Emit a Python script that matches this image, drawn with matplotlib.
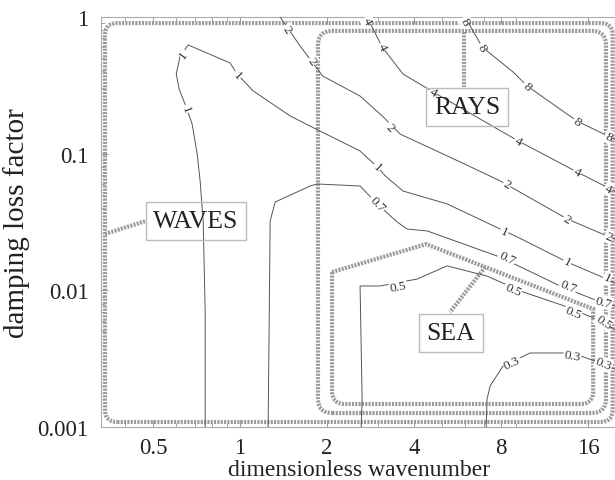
import numpy as np
import matplotlib
matplotlib.use("Agg")
import matplotlib.pyplot as plt
from matplotlib.patches import FancyBboxPatch, Polygon
from matplotlib.ticker import FixedLocator, FixedFormatter, LogLocator, NullFormatter

plt.rcParams['font.family'] = ['Liberation Serif', 'DejaVu Serif']

# contour lines (x = wavenumber, y = loss factor)
c1_x = [0.757, 0.757, 0.745, 0.727, 0.710, 0.682, 0.650, 0.615, 0.601, 0.620, 0.661,
        0.923, 0.976, 1.109, 1.489, 1.747, 2.60, 2.98, 3.18, 3.66, 5.2, 7.94, 9.09,
        13.54, 17.6, 20.3]
c1_y = [0.001, 0.0070, 0.0317, 0.0632, 0.0995, 0.165, 0.220, 0.297, 0.383, 0.518, 0.624,
        0.461, 0.383, 0.288, 0.189, 0.159, 0.1047, 0.080, 0.0687, 0.0533, 0.0429, 0.0281,
        0.0246, 0.0161, 0.0127, 0.0110]
c2_x = [1.375, 1.613, 1.93, 2.60, 3.125, 3.58, 5.77, 7.94, 13.54, 18.6, 20.3]
c2_y = [1.0, 0.613, 0.370, 0.264, 0.186, 0.139, 0.087, 0.0632, 0.0333, 0.025, 0.0232]
c4_x = [2.75, 3.10, 3.66, 4.65, 9.16, 14.66, 20.3]
c4_y = [1.0, 0.603, 0.383, 0.283, 0.124, 0.0734, 0.0517]
c8_x = [6.0, 6.88, 8.80, 9.84, 14.66, 20.3]
c8_y = [1.0, 0.603, 0.396, 0.313, 0.173, 0.124]
c07_x = [1.25, 1.27, 1.322, 1.747, 1.847, 2.60, 2.98, 3.49, 3.78, 4.44, 7.94, 12.8, 17.6, 20.3]
c07_y = [0.001, 0.0322, 0.0443, 0.058, 0.060, 0.058, 0.0429, 0.0317, 0.0281, 0.0272,
         0.0175, 0.01076, 0.00823, 0.00756]
c05_x = [2.623, 2.643, 2.60, 3.05, 4.10, 5.2, 7.16, 9.53, 13.54, 18.03, 20.3]
c05_y = [0.001, 0.0016, 0.01076, 0.01076, 0.0121, 0.0151, 0.0127, 0.00973, 0.00756,
         0.00587, 0.00497]
c03_x = [7.10, 7.15, 7.33, 8.13, 10.08, 13.11, 15.38, 18.03, 20.3]
c03_y = [0.001, 0.0016, 0.0020, 0.0028, 0.00348, 0.00348, 0.00326, 0.00289, 0.0026]

levels = ['1', '2', '4', '8', '0.7', '0.5', '0.3']
lines_x = [c1_x, c2_x, c4_x, c8_x, c07_x, c05_x, c03_x]
lines_y = [c1_y, c2_y, c4_y, c8_y, c07_y, c05_y, c03_y]

# label positions on each contour
lab_x = [[0.635, 0.650, 0.98, 2.98, 8.19, 13.54, 18.6],
         [1.454, 1.775, 3.30, 8.39, 13.54, 18.8],
         [2.75, 3.10, 4.65, 9.16, 14.66, 18.8],
         [6.0, 6.88, 9.84, 14.66, 18.8],
         [2.98, 8.39, 13.64, 18.1],
         [3.52, 8.8, 14.2, 18.1],
         [8.73, 14.09, 18.1]]
lab_y = [[0.536, 0.212, 0.377, 0.080, 0.0268, 0.0161, 0.0123],
         [0.817, 0.477, 0.157, 0.060, 0.0333, 0.0248],
         [0.935, 0.603, 0.283, 0.124, 0.0734, 0.0555],
         [0.935, 0.603, 0.313, 0.173, 0.133],
         [0.0429, 0.0173, 0.01076, 0.0082],
         [0.0107, 0.0102, 0.00695, 0.0059],
         [0.00294, 0.00331, 0.0029]]

xticks = [0.5, 1, 2, 4, 8, 16]
xtick_labels = ['0.5', '1', '2', '4', '8', '16']
yticks = [0.001, 0.01, 0.1, 1]
ytick_labels = ['0.001', '0.01', '0.1', '1']

regions = ['WAVES', 'RAYS', 'SEA']


def put_label(ax, xs, ys, lx, ly, text):
    pts = ax.transData.transform(np.column_stack([xs, ys]))
    p = ax.transData.transform((lx, ly))
    best = None
    for i in range(len(pts) - 1):
        a, b = pts[i], pts[i + 1]
        ab = b - a
        t = np.clip(np.dot(p - a, ab) / max(np.dot(ab, ab), 1e-9), 0, 1)
        d = np.linalg.norm(a + t * ab - p)
        if best is None or d < best[0]:
            best = (d, ab)
    ang = np.degrees(np.arctan2(best[1][1], best[1][0]))
    if ang > 90:
        ang -= 180
    if ang < -90:
        ang += 180
    ax.text(lx, ly, text, rotation=ang, rotation_mode='anchor', ha='center',
            va='center', fontsize=9.5, color='#333333', zorder=4,
            bbox=dict(fc='white', ec='none', pad=0.6))


fig = plt.figure(figsize=(6.15, 4.81), dpi=100)
ax = fig.add_axes([101 / 615, 53 / 481, 517 / 615, 410 / 481])
ax.set_xscale('log')
ax.set_yscale('log')
ax.set_xlim(0.33, 20.3)
ax.set_ylim(0.001, 1)

for xs, ys in zip(lines_x, lines_y):
    ax.plot(xs, ys, color='#555555', lw=0.7, zorder=3)
for xs, ys, lxs, lys, lev in zip(lines_x, lines_y, lab_x, lab_y, levels):
    for lx, ly in zip(lxs, lys):
        put_label(ax, xs, ys, lx, ly, lev)

# dotted region outlines (axes fraction)
dot = dict(fill=False, ec='#9a9a9a', lw=3, ls=(0, (0.5, 0.3)), transform=ax.transAxes,
           zorder=2, clip_on=False)
asp = 517 / 410
ax.add_patch(FancyBboxPatch((0.0077, 0.0122), 0.982, 0.973,
                            boxstyle='round,pad=0,rounding_size=0.024',
                            mutation_aspect=asp, **dot))
ax.add_patch(FancyBboxPatch((0.4197, 0.0341), 0.557, 0.932,
                            boxstyle='round,pad=0,rounding_size=0.028',
                            mutation_aspect=asp, **dot))
r = 0.022
arc = np.linspace(0, np.pi / 2, 8)
sea = [(0.447, 0.378), (0.629, 0.446), (0.952, 0.288)]
sea += [(0.952 - r + r * np.cos(a), 0.056 + r * asp - r * asp * np.sin(a)) for a in arc]
sea += [(0.447 + r - r * np.sin(a), 0.056 + r * asp - r * asp * np.cos(a)) for a in arc]
ax.add_patch(Polygon(sea, closed=True, **dot))

conn = dict(color='#9a9a9a', lw=3, ls=(0, (0.5, 0.3)), transform=ax.transAxes, zorder=2)
ax.plot([0.0077, 0.0851], [0.4707, 0.502], **conn)
ax.plot([0.702, 0.702], [0.963, 0.829], **conn)
ax.plot([0.743, 0.675], [0.390, 0.280], **conn)

box = dict(boxstyle='square,pad=0.3', fc='none', ec='#bbbbbb', lw=1)
ax.text(0.1838, 0.502, regions[0], transform=ax.transAxes, ha='center', va='center',
        fontsize=18.5, color='#222222', bbox=box, zorder=5)
ax.text(0.708, 0.780, regions[1], transform=ax.transAxes, ha='center', va='center',
        fontsize=18.5, color='#222222', bbox=box, zorder=5)
ax.text(0.677, 0.229, regions[2], transform=ax.transAxes, ha='center', va='center',
        fontsize=18.5, color='#222222', bbox=box, zorder=5)

ax.xaxis.set_major_locator(FixedLocator(xticks))
ax.xaxis.set_major_formatter(FixedFormatter(xtick_labels))
ax.xaxis.set_minor_locator(LogLocator(base=10, subs=np.arange(2, 10)))
ax.xaxis.set_minor_formatter(NullFormatter())
ax.yaxis.set_major_locator(FixedLocator(yticks))
ax.yaxis.set_major_formatter(FixedFormatter(ytick_labels))
ax.yaxis.set_minor_locator(LogLocator(base=10, subs=np.arange(2, 10)))
ax.yaxis.set_minor_formatter(NullFormatter())

ax.tick_params(which='both', direction='in', top=True, right=True, color='#999999',
               labelsize=16.5, labelcolor='#222222')
ax.tick_params(which='major', length=5, width=0.7)
ax.tick_params(which='minor', length=3, width=0.6)
ax.tick_params(axis='x', pad=7)
ax.tick_params(axis='y', pad=9)
for s in ax.spines.values():
    s.set_color('#aaaaaa')
    s.set_linewidth(0.8)

ax.set_xlabel('dimensionless wavenumber', fontsize=17, color='#222222', labelpad=1)
ax.set_ylabel('damping loss factor', fontsize=21, color='#222222', labelpad=5)

fig.savefig('out.png', dpi=100)
